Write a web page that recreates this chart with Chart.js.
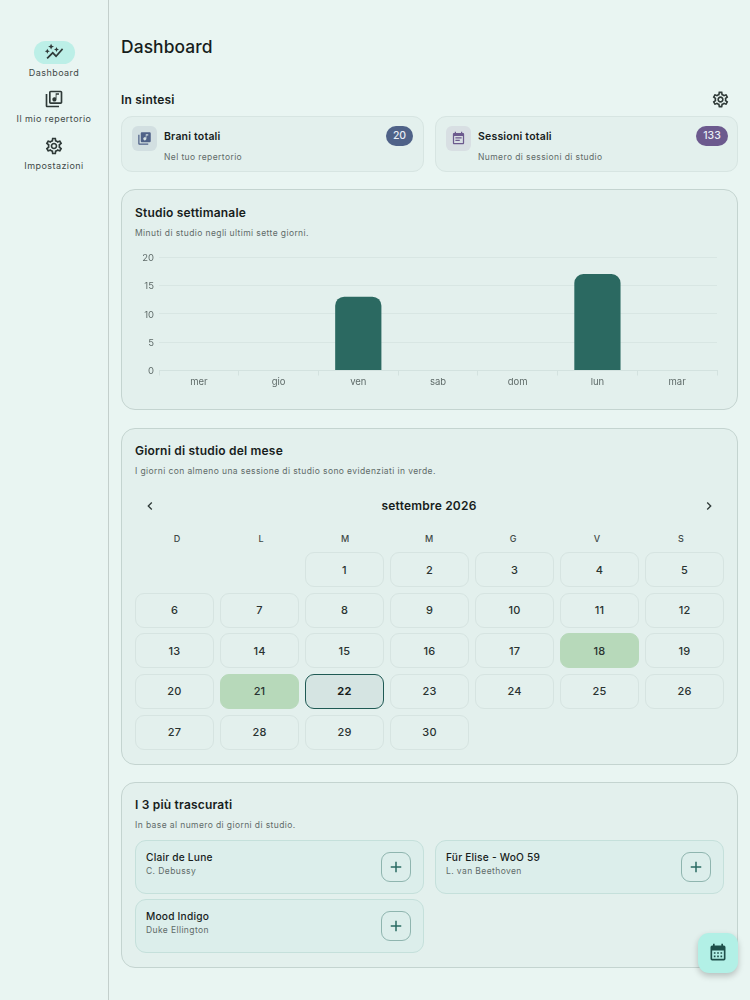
<!DOCTYPE html>
<html>
<head>
  <title>Dashboard</title>
  <script src="https://cdn.jsdelivr.net/npm/chart.js"></script>
  <style>
    * { box-sizing: border-box; }
    html, body { margin: 0; padding: 0; }
    body { width: 750px; height: 1000px; position: relative; overflow: hidden; background: #e9f5f2; font-family: Inter, "Noto Sans", sans-serif; color: #171d1c; }
    .abs { position: absolute; white-space: nowrap; }
    svg { display: block; fill: currentColor; }
    #rail { left: 0; top: 0; width: 109px; height: 1000px; border-right: 1px solid #c3cfcc; }
    .nav { position: absolute; left: 0; width: 108px; text-align: center; font-size: 9px; line-height: 12px; letter-spacing: .45px; font-weight: 400; color: #3f4947; }
    .nav svg { position: absolute; left: 44px; width: 20px; height: 20px; color: #2f3a38; }
    #pill { left: 34px; top: 41px; width: 41px; height: 23px; border-radius: 12px; background: #bcefe7; }
    h1 { position: absolute; left: 121px; top: 35px; margin: 0; font-size: 17.4px; line-height: 24px; font-weight: 500; letter-spacing: .1px; }
    .section { left: 121px; top: 92px; font-size: 12px; line-height: 16px; font-weight: 600; letter-spacing: .2px; }
    .card { position: absolute; background: #e3f0ed; border: 1px solid #c4d4d0; border-radius: 14px; }
    .stat { border-color: #d7e5e2; border-radius: 11px; height: 56px; top: 116px; }
    .tile { position: absolute; left: 10px; top: 9px; width: 25px; height: 25px; border-radius: 6px; display: flex; align-items: center; justify-content: center; }
    .stat b { position: absolute; left: 42px; top: 13px; font-size: 10.5px; line-height: 14px; font-weight: 600; letter-spacing: .2px; }
    .stat span { position: absolute; left: 42px; top: 34px; font-size: 8.5px; line-height: 12px; letter-spacing: .4px; color: #5f6b69; white-space: nowrap; }
    .badge { position: absolute; top: 9px; height: 20px; border-radius: 10px; color: #e8edf5; font-size: 10.5px; line-height: 20px; text-align: center; font-weight: 500; }
    .title { left: 135px; font-size: 12px; line-height: 16px; font-weight: 600; letter-spacing: .2px; }
    .sub { left: 135px; font-size: 8.5px; line-height: 12px; letter-spacing: .4px; color: #5f6b69; }
    #chartBox { position: absolute; left: 125px; top: 245px; width: 600px; height: 150px; }
    #monthLabel { left: 135px; width: 588px; top: 498px; text-align: center; font-size: 12px; line-height: 16px; font-weight: 600; letter-spacing: .2px; }
    #weekRow { position: absolute; left: 135px; top: 533px; width: 588px; display: grid; grid-template-columns: repeat(7, 84px); text-align: center; font-size: 9px; line-height: 12px; font-weight: 500; color: #3f4947; }
    #days { position: absolute; left: 135px; top: 552px; display: grid; grid-template-columns: repeat(7, 79px); grid-auto-rows: 35px; column-gap: 6px; row-gap: 5.67px; }
    .day { border: 1px solid #d6e4e1; border-radius: 9px; display: flex; align-items: center; justify-content: center; font-size: 11px; font-weight: 500; letter-spacing: .2px; color: #2a3331; }
    .day.done { background: #b7d9ba; border-color: #b7d9ba; }
    .day.today { background: #d5e4e2; border: 1px solid #1f5a54; font-weight: 700; color: #171d1c; }
    .song { position: absolute; height: 54px; width: 289px; background: #dceeeb; border: 1px solid #c5e0db; border-radius: 11px; }
    .song b { position: absolute; left: 10px; top: 9px; font-size: 10.2px; line-height: 14px; font-weight: 500; letter-spacing: .2px; white-space: nowrap; }
    .song span { position: absolute; left: 10px; top: 24px; font-size: 8.5px; line-height: 12px; letter-spacing: .4px; color: #5f6b69; white-space: nowrap; }
    .plus { position: absolute; left: 245px; top: 11px; width: 30px; height: 30px; border: 1px solid #8fb5af; border-radius: 9px; color: #2a6b63; display: flex; align-items: center; justify-content: center; }
    #fab { left: 698px; top: 933px; width: 40px; height: 40px; border-radius: 11px; background: #b2f0e6; box-shadow: 0 3px 6px rgba(0,0,0,.22); display: flex; align-items: center; justify-content: center; color: #1f4f4a; }
  </style>
</head>
<body>
  <div class="abs" id="rail"></div>
  <div class="abs" id="pill"></div>
  <div class="nav" style="top:67px">Dashboard<svg style="top:-25px" viewBox="0 0 24 24"><path d="M14.06 9.94L12 9l2.06-.94L15 6l.94 2.06L18 9l-2.06.94L15 12l-.94-2.06zM4 14l.94-2.06L7 11l-2.06-.94L4 8l-.94 2.06L1 11l2.06.94L4 14zm4.5-5l1.09-2.41L12 5.5 9.59 4.41 8.5 2 7.41 4.41 5 5.5l2.41 1.09L8.5 9zm-4 11.5l6-6.01 4 4L23 8.93l-1.41-1.41-7.09 7.97-4-4L3 19l1.5 1.5z"/></svg></div>
  <div class="nav" style="top:113px">Il mio repertorio<svg style="top:-24px" viewBox="0 0 24 24"><path d="M20 2H8c-1.1 0-2 .9-2 2v12c0 1.1.9 2 2 2h12c1.1 0 2-.9 2-2V4c0-1.1-.9-2-2-2zm0 14H8V4h12v12zm-7.5-1c1.38 0 2.5-1.12 2.5-2.5V7h3V5h-4v5.51c-.42-.32-.93-.51-1.5-.51-1.38 0-2.5 1.12-2.5 2.5s1.12 2.5 2.5 2.5zM2 6v14c0 1.1.9 2 2 2h14v-2H4V6H2z"/></svg></div>
  <div class="nav" style="top:160px">Impostazioni<svg style="top:-24px" viewBox="0 0 24 24"><use href="#gear"/></svg></div>

  <h1>Dashboard</h1>
  <div class="abs section">In sintesi</div>
  <svg class="abs" style="left:711px;top:90px;width:19px;height:19px;color:#2f3a38" viewBox="0 0 24 24"><path id="gear" d="M19.43 12.98c.04-.32.07-.64.07-.98 0-.34-.03-.66-.07-.98l2.11-1.65c.19-.15.24-.42.12-.64l-2-3.46c-.09-.16-.26-.25-.44-.25-.06 0-.12.01-.17.03l-2.49 1c-.52-.4-1.08-.73-1.69-.98l-.38-2.65C14.46 2.18 14.25 2 14 2h-4c-.25 0-.46.18-.49.42l-.38 2.65c-.61.25-1.17.59-1.69.98l-2.49-1c-.06-.02-.12-.03-.18-.03-.17 0-.34.09-.43.25l-2 3.46c-.13.22-.07.49.12.64l2.11 1.65c-.04.32-.07.65-.07.98 0 .33.03.66.07.98l-2.11 1.65c-.19.15-.24.42-.12.64l2 3.46c.09.16.26.25.44.25.06 0 .12-.01.17-.03l2.49-1c.52.4 1.08.73 1.69.98l.38 2.65c.03.24.24.42.49.42h4c.25 0 .46-.18.49-.42l.38-2.65c.61-.25 1.17-.59 1.69-.98l2.49 1c.06.02.12.03.18.03.17 0 .34-.09.43-.25l2-3.46c.12-.22.07-.49-.12-.64l-2.11-1.65zm-1.98-1.71c.04.31.05.52.05.73 0 .21-.02.43-.05.73l-.14 1.13.89.7 1.08.84-.7 1.21-1.27-.51-1.04-.42-.9.68c-.43.32-.84.56-1.25.73l-1.06.43-.16 1.13-.2 1.35h-1.4l-.19-1.35-.16-1.13-1.06-.43c-.43-.18-.83-.41-1.23-.71l-.91-.7-1.06.43-1.27.51-.7-1.21 1.08-.84.89-.7-.14-1.13c-.03-.31-.05-.54-.05-.74s.02-.43.05-.73l.14-1.13-.89-.7-1.08-.84.7-1.21 1.27.51 1.04.42.9-.68c.43-.32.84-.56 1.25-.73l1.06-.43.16-1.13.2-1.35h1.39l.19 1.35.16 1.13 1.06.43c.43.18.83.41 1.23.71l.91.7 1.06-.43 1.27-.51.7 1.21-1.07.85-.89.7.14 1.13zM12 8c-2.21 0-4 1.79-4 4s1.79 4 4 4 4-1.79 4-4-1.79-4-4-4zm0 6c-1.1 0-2-.9-2-2s.9-2 2-2 2 .9 2 2-.9 2-2 2z"/></svg>

  <div class="card stat" style="left:121px;width:303px">
    <div class="tile" style="background:#d2dfe1;color:#4f6288"><svg width="15" height="15" viewBox="0 0 24 24"><path d="M20 2H8c-1.1 0-2 .9-2 2v12c0 1.1.9 2 2 2h12c1.1 0 2-.9 2-2V4c0-1.1-.9-2-2-2zm-2 5h-3v5.5c0 1.38-1.12 2.5-2.5 2.5S10 13.88 10 12.5s1.12-2.5 2.5-2.5c.57 0 1.08.19 1.5.51V5h4v2zM4 6H2v14c0 1.1.9 2 2 2h14v-2H4V6z"/></svg></div>
    <b>Brani totali</b><span>Nel tuo repertorio</span>
    <div class="badge" style="left:264px;width:27px;background:#4f6288">20</div>
  </div>
  <div class="card stat" style="left:435px;width:303px">
    <div class="tile" style="background:#d8dfe3;color:#6c5a8e"><svg width="15" height="15" viewBox="0 0 24 24"><path d="M17 10H7v2h10v-2zm2-7h-1V1h-2v2H8V1H6v2H5c-1.11 0-2 .9-2 2v14c0 1.1.89 2 2 2h14c1.1 0 2-.9 2-2V5c0-1.1-.9-2-2-2zm0 16H5V8h14v11zm-5-5H7v2h7v-2z"/></svg></div>
    <b>Sessioni totali</b><span>Numero di sessioni di studio</span>
    <div class="badge" style="left:260px;width:32px;background:#6c5a8e">133</div>
  </div>

  <div class="card" style="left:121px;top:189px;width:617px;height:221px"></div>
  <div class="abs title" style="top:205px">Studio settimanale</div>
  <div class="abs sub" style="top:227px">Minuti di studio negli ultimi sette giorni.</div>
  <div id="chartBox"><canvas id="weekChart" width="600" height="150"></canvas></div>

  <div class="card" style="left:121px;top:428px;width:617px;height:337px"></div>
  <div class="abs title" style="top:443px">Giorni di studio del mese</div>
  <div class="abs sub" style="top:465px">I giorni con almeno una sessione di studio sono evidenziati in verde.</div>
  <svg class="abs" style="left:142px;top:498px;width:16px;height:16px;color:#2f3a38" viewBox="0 0 24 24"><path d="M15.41 7.41L14 6l-6 6 6 6 1.41-1.41L10.83 12z"/></svg>
  <svg class="abs" style="left:701px;top:498px;width:16px;height:16px;color:#2f3a38" viewBox="0 0 24 24"><path d="M10 6L8.59 7.41 13.17 12l-4.58 4.59L10 18l6-6z"/></svg>
  <div class="abs" id="monthLabel"></div>
  <div id="weekRow"></div>
  <div id="days"></div>

  <div class="card" style="left:121px;top:782px;width:617px;height:186px"></div>
  <div class="abs title" style="top:797px">I 3 più trascurati</div>
  <div class="abs sub" style="top:819px">In base al numero di giorni di studio.</div>
  <div id="songs"></div>

  <div class="abs" id="fab"><svg width="20" height="20" viewBox="0 0 24 24"><path d="M19 3h-1V1h-2v2H8V1H6v2H5a2 2 0 0 0-2 2v14a2 2 0 0 0 2 2h14a2 2 0 0 0 2-2V5a2 2 0 0 0-2-2zm0 16H5V9h14v10z"/><path d="M7 11h2v2H7zM11 11h2v2h-2zM15 11h2v2h-2zM7 15h2v2H7zM11 15h2v2h-2zM15 15h2v2h-2z"/></svg></div>

  <script>
    const weekLabels = ['mer', 'gio', 'ven', 'sab', 'dom', 'lun', 'mar'];
    const weekMinutes = [0, 0, 13, 0, 0, 17, 0];

    const monthName = 'settembre 2026';
    const weekHeads = ['D', 'L', 'M', 'M', 'G', 'V', 'S'];
    const leadingBlanks = 2;
    const daysInMonth = 30;
    const studiedDays = [18, 21];
    const todayNumber = 22;

    const songTitles = ['Clair de Lune', 'Für Elise - WoO 59', 'Mood Indigo'];
    const songAuthors = ['C. Debussy', 'L. van Beethoven', 'Duke Ellington'];
    const songLefts = [135, 435, 135];
    const songTops = [840, 840, 899];

    document.getElementById('monthLabel').textContent = monthName;
    document.getElementById('weekRow').innerHTML = weekHeads.map(d => `<div>${d}</div>`).join('');

    let cells = '';
    for (let i = 0; i < leadingBlanks; i++) cells += '<div></div>';
    for (let d = 1; d <= daysInMonth; d++) {
      let cls = 'day';
      if (studiedDays.includes(d)) cls += ' done';
      if (d === todayNumber) cls += ' today';
      cells += `<div class="${cls}">${d}</div>`;
    }
    document.getElementById('days').innerHTML = cells;

    document.getElementById('songs').innerHTML = songTitles.map((t, i) =>
      `<div class="song" style="left:${songLefts[i]}px;top:${songTops[i]}px"><b>${t}</b><span>${songAuthors[i]}</span>` +
      `<div class="plus"><svg width="18" height="18" viewBox="0 0 24 24"><path d="M19 13h-6v6h-2v-6H5v-2h6V5h2v6h6v2z"/></svg></div></div>`
    ).join('');

    Chart.defaults.font.family = 'Inter';
    Chart.defaults.font.size = 9.5;
    Chart.defaults.color = '#5f6b69';

    new Chart(document.getElementById('weekChart').getContext('2d'), {
      type: 'bar',
      data: {
        labels: weekLabels,
        datasets: [{
          data: weekMinutes,
          backgroundColor: '#2b6961',
          barPercentage: 0.58,
          categoryPercentage: 1,
          borderRadius: { topLeft: 9, topRight: 9 },
          borderSkipped: 'bottom'
        }]
      },
      options: {
        responsive: false,
        animation: false,
        maintainAspectRatio: false,
        layout: { padding: { top: 12, right: 8, bottom: 0, left: 0 } },
        plugins: { legend: { display: false }, tooltip: { enabled: false } },
        scales: {
          x: {
            afterFit: scale => { scale.height = 24.5; },
            grid: { drawOnChartArea: false, drawTicks: true, tickLength: 5, color: '#d3e2df', offset: true },
            border: { color: '#d3e2df' },
            ticks: { padding: 1, maxRotation: 0 }
          },
          y: {
            min: 0,
            max: 20,
            afterFit: scale => { scale.width = 34; },
            grid: { drawTicks: false, color: '#d8e6e3' },
            border: { display: false },
            ticks: { stepSize: 5, padding: 5, labelOffset: 1 }
          }
        }
      }
    });
  </script>
</body>
</html>
